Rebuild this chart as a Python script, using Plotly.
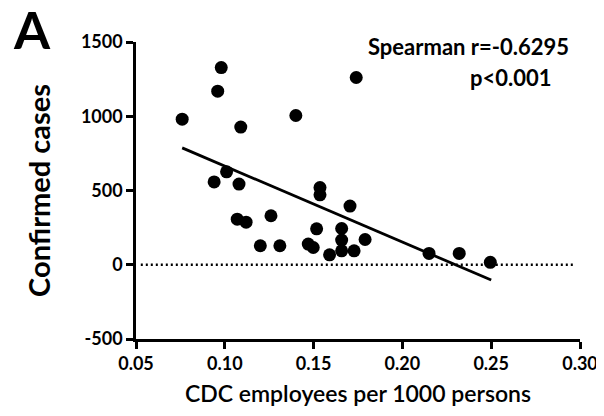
import plotly.graph_objects as go

# Scatter data: CDC employees per 1000 persons vs confirmed cases
cdc_per_1000 = [0.098, 0.096, 0.076, 0.109, 0.140, 0.174, 0.101, 0.094, 0.108,
                0.1536, 0.1536, 0.1705, 0.107, 0.112, 0.126, 0.1517, 0.1658,
                0.1658, 0.179, 0.120, 0.131, 0.147, 0.1498, 0.159, 0.1658,
                0.1728, 0.215, 0.232, 0.2495]
confirmed_cases = [1328, 1169, 980, 927, 1005, 1261, 626, 558, 543,
                   520, 471, 395, 307, 287, 330, 242, 244,
                   166, 170, 128, 128, 139, 116, 67, 94,
                   94, 76, 76, 16]

# Regression line endpoints
fit_x = [0.076, 0.250]
fit_y = [787, -103]

# Reference zero line
zero_x = [0.0527, 0.2975]
zero_y = [0, 0]

x_ticks = [0.05, 0.10, 0.15, 0.20, 0.25, 0.30]
x_tick_labels = ["0.05", "0.10", "0.15", "0.20", "0.25", "0.30"]
y_ticks = [-500, 0, 500, 1000, 1500]
y_tick_labels = ["-500", "0", "500", "1000", "1500"]

FONT = "Lato"
OFF = 8  # default page body margin
W, H = 604 - OFF, 416 - OFF
L, R, T, B = 136 - OFF, 24, 42 - OFF, 77
pw, ph = W - L - R, H - T - B


def px_x(px):
    return (px - OFF - L) / pw


def px_y(py):
    return (H - B - (py - OFF)) / ph


fig = go.Figure()
fig.add_trace(go.Scatter(x=zero_x, y=zero_y, mode="lines",
                         line=dict(color="black", width=2.5, dash="2px,3px"),
                         hoverinfo="skip", showlegend=False))
fig.add_trace(go.Scatter(x=fit_x, y=fit_y, mode="lines",
                         line=dict(color="black", width=2.8),
                         showlegend=False))
fig.add_trace(go.Scatter(x=cdc_per_1000, y=confirmed_cases, mode="markers",
                         marker=dict(color="black", size=13),
                         showlegend=False))

fig.update_layout(
    width=W, height=H,
    margin=dict(l=L, r=R, t=T, b=B, autoexpand=False),
    plot_bgcolor="white", paper_bgcolor="white",
    font=dict(family=FONT, color="black"),
    xaxis=dict(range=[0.05, 0.30], tickvals=x_ticks, ticktext=x_tick_labels,
               automargin=False,
               showgrid=False, zeroline=False, showline=True,
               linecolor="black", linewidth=2.5, ticks="outside",
               ticklen=7, tickwidth=2.5, tickcolor="black",
               tickfont=dict(family=FONT, size=18, color="black", weight="bold"),
               title=dict(text="CDC employees per 1000 persons",
                          font=dict(family=FONT, size=23, color="black", weight=600),
                          standoff=13)),
    yaxis=dict(range=[-500, 1500], tickvals=y_ticks, ticktext=y_tick_labels,
               automargin=False,
               showgrid=False, zeroline=False, showline=True,
               linecolor="black", linewidth=2.5, ticks="outside",
               ticklen=7, tickwidth=2.5, tickcolor="black",
               tickfont=dict(family=FONT, size=18, color="black", weight="bold"),
               title=dict(text="Confirmed cases",
                          font=dict(family=FONT, size=29, color="black", weight="bold"),
                          standoff=22)),
    annotations=[
        dict(text="<b>A</b>", x=px_x(11), y=px_y(29), xref="paper", yref="paper",
             showarrow=False, xanchor="left", yanchor="middle",
             font=dict(family=FONT, size=52, color="black")),
        dict(text="<b>Spearman r=-0.6295</b>", x=px_x(571), y=px_y(46),
             xref="paper", yref="paper", showarrow=False,
             xanchor="right", yanchor="middle",
             font=dict(family=FONT, size=22, color="black")),
        dict(text="<b>p<0.001</b>", x=px_x(554), y=px_y(77),
             xref="paper", yref="paper", showarrow=False,
             xanchor="right", yanchor="middle",
             font=dict(family=FONT, size=22, color="black")),
    ],
)

fig.write_html("out.html")
